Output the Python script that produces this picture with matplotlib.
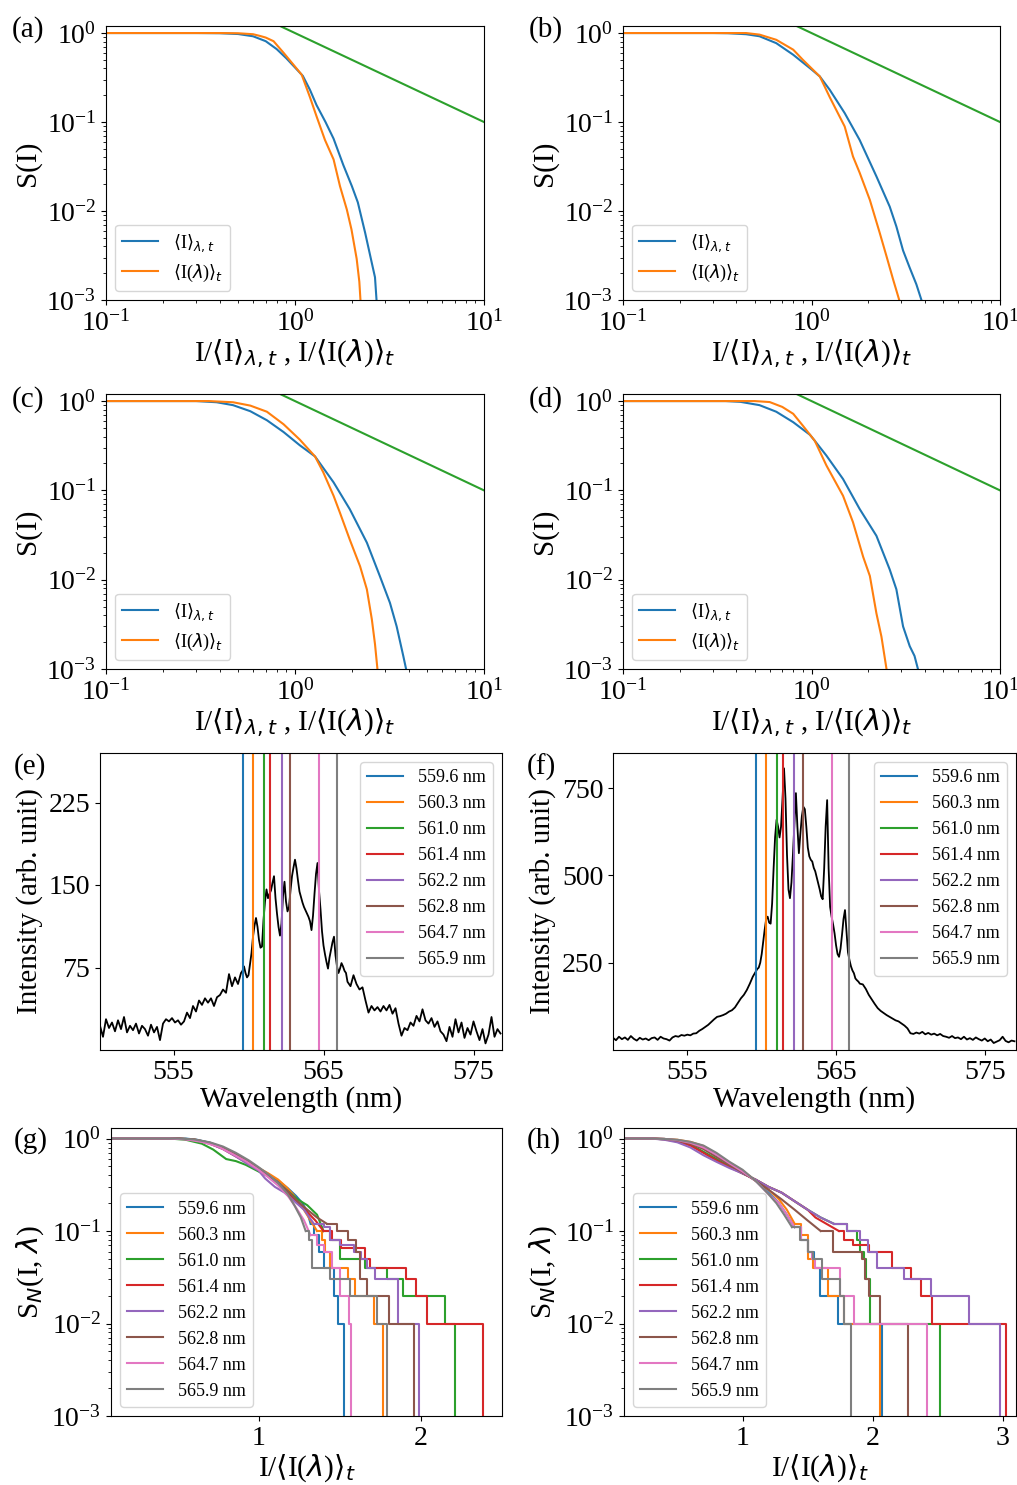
import numpy as np
import matplotlib
matplotlib.use('Agg')
import matplotlib.pyplot as plt

plt.rcParams['font.family'] = ['Liberation Serif', 'DejaVu Serif']
plt.rcParams['font.size'] = 20
plt.rcParams['axes.labelsize'] = 21
plt.rcParams['legend.fontsize'] = 13

# ---- survival curves S(I), panels (a)-(d): (x, S) pairs
a_blue = [(0.1, 1.0), (0.3, 1.0), (0.4, 0.995), (0.5, 0.975), (0.6, 0.92), (0.7, 0.81), (0.8, 0.66),
          (0.9, 0.52), (1.0, 0.41), (1.1, 0.33), (1.2, 0.23), (1.3, 0.155), (1.45, 0.1), (1.6, 0.065),
          (1.8, 0.033), (2.0, 0.019), (2.15, 0.0125), (2.35, 0.0057), (2.55, 0.0026), (2.65, 0.0018),
          (2.7, 0.001), (2.72, 0.0009)]
a_orange = [(0.1, 1.0), (0.4, 1.0), (0.5, 0.995), (0.6, 0.97), (0.65, 0.93), (0.7, 0.89), (0.77, 0.81),
            (0.87, 0.6), (1.0, 0.42), (1.085, 0.34), (1.2, 0.19), (1.3, 0.116), (1.44, 0.063), (1.6, 0.038),
            (1.73, 0.019), (1.88, 0.0104), (1.99, 0.0062), (2.12, 0.0029), (2.19, 0.0016), (2.22, 0.001),
            (2.24, 0.0009)]
b_blue = [(0.1, 1.0), (0.3, 1.0), (0.36, 0.995), (0.45, 0.97), (0.53, 0.92), (0.65, 0.77), (0.8, 0.57),
          (1.0, 0.39), (1.107, 0.325), (1.25, 0.23), (1.5, 0.126), (1.8, 0.063), (2.21, 0.0245),
          (2.6, 0.0112), (2.82, 0.0067), (3.06, 0.0036), (3.32, 0.0023), (3.6, 0.0015), (3.83, 0.001),
          (3.85, 0.0009)]
b_orange = [(0.1, 1.0), (0.45, 1.0), (0.53, 0.96), (0.65, 0.84), (0.8, 0.65), (0.9, 0.5), (1.107, 0.325),
            (1.25, 0.19), (1.5, 0.089), (1.66, 0.041), (1.8, 0.027), (2.04, 0.0133), (2.3, 0.0057),
            (2.5, 0.0031), (2.71, 0.0017), (2.92, 0.001), (2.94, 0.0009)]
c_blue = [(0.1, 1.0), (0.3, 1.0), (0.385, 0.97), (0.47, 0.9), (0.58, 0.77), (0.71, 0.61), (0.87, 0.45),
          (1.06, 0.32), (1.276, 0.24), (1.6, 0.123), (1.95, 0.0615), (2.4, 0.026), (2.81, 0.011),
          (3.18, 0.0055), (3.45, 0.003), (3.74, 0.0014), (3.87, 0.001), (3.9, 0.0009)]
c_orange = [(0.1, 1.0), (0.35, 1.0), (0.47, 0.97), (0.58, 0.89), (0.71, 0.76), (0.87, 0.55), (1.06, 0.37),
            (1.276, 0.24), (1.41, 0.16), (1.6, 0.087), (1.73, 0.056), (1.95, 0.028), (2.21, 0.0141),
            (2.4, 0.0078), (2.55, 0.0036), (2.65, 0.0019), (2.73, 0.001), (2.75, 0.0009)]
d_blue = [(0.1, 1.0), (0.35, 1.0), (0.42, 0.98), (0.53, 0.9), (0.65, 0.76), (0.8, 0.58), (0.98, 0.42),
          (1.04, 0.36), (1.2, 0.245), (1.47, 0.134), (1.8, 0.062), (2.21, 0.031), (2.6, 0.013),
          (2.82, 0.0078), (3.06, 0.003), (3.32, 0.0018), (3.52, 0.0014), (3.67, 0.001), (3.7, 0.0009)]
d_orange = [(0.1, 1.0), (0.5, 1.0), (0.6, 0.975), (0.7, 0.86), (0.8, 0.72), (0.9, 0.53), (1.04, 0.36),
            (1.2, 0.19), (1.47, 0.087), (1.66, 0.044), (1.88, 0.018), (2.04, 0.011), (2.21, 0.0042),
            (2.35, 0.0023), (2.5, 0.001), (2.52, 0.0009)]

# power-law guide S ~ 1/I
guide_x = [0.1, 10.0]
guide_y = [10.0, 0.1]

# ---- spectra (e), (f)
lines_nm = [559.6, 560.3, 561.0, 561.4, 562.2, 562.8, 564.7, 565.9]

e_int_left = [22, 12, 28, 20, 25, 17, 27, 19, 30, 16,
              22, 18, 24, 15, 22, 19, 13, 23, 16, 21,
              9, 24, 28, 26, 29, 25, 27, 23, 26, 34,
              29, 40, 35, 45, 41, 47, 43, 47, 40, 48,
              50, 55, 52, 69, 58, 66, 60, 70]
e_int_core = [72, 76, 70, 66, 68, 78, 88, 103, 113, 120,
              112, 100, 93, 94, 118, 135, 146, 138, 142, 145,
              152, 158, 138, 124, 112, 104, 115, 140, 153, 135,
              126, 130, 145, 158, 166, 173, 165, 154, 144, 139,
              134, 130, 127, 124, 121, 117, 109, 122, 142, 160,
              170, 145, 128, 108, 95, 87, 80, 74, 84, 91,
              98, 103, 86, 76, 70, 74, 79, 76, 72, 70,
              62]
e_int_right = [58, 68, 60, 55, 57, 45, 34, 40, 36, 39,
               35, 40, 36, 41, 33, 38, 24, 13, 20, 18,
               25, 22, 31, 26, 37, 27, 24, 29, 21, 26,
               17, 14, 8, 21, 12, 28, 16, 25, 11, 20,
               14, 26, 17, 9, 19, 6, 14, 30, 12, 19,
               15]

f_int_left = [35, 28, 38, 31, 36, 29, 40, 32, 27, 35,
              30, 33, 28, 34, 36, 29, 38, 33, 31, 27,
              36, 40, 38, 43, 41, 44, 42, 47, 48, 55,
              60, 66, 72, 80, 88, 95, 97, 100, 104, 110,
              114, 122, 135, 148, 158, 172, 190, 210]
f_int_core = [225, 232, 236, 250, 275, 310, 345, 375, 382, 365,
              362, 420, 520, 610, 660, 640, 609, 640, 720, 807,
              720, 560, 460, 435, 480, 560, 650, 736, 640, 564,
              620, 670, 697, 690, 640, 580, 555, 545, 540, 522,
              512, 495, 478, 460, 440, 432, 520, 640, 716, 520,
              410, 382, 360, 334, 300, 275, 267, 290, 330, 375,
              401, 340, 280, 258, 240, 228, 220, 205, 200, 196,
              190]
f_int_right = [188, 175, 158, 145, 132, 120, 112, 106, 100, 95,
               90, 85, 82, 76, 70, 62, 48, 46, 50, 47,
               52, 45, 49, 44, 47, 42, 46, 40, 38, 35,
               40, 34, 36, 31, 38, 30, 34, 29, 36, 31,
               27, 33, 25, 30, 20, 24, 28, 38, 26, 22,
               27, 25]

e_wl = np.concatenate([np.linspace(550.1, 559.5, 48), np.linspace(559.6, 566.6, 71),
                       np.linspace(566.8, 576.8, 51)])
e_int = np.array(e_int_left + e_int_core + e_int_right)
f_wl = np.concatenate([np.linspace(550.0, 559.4, 48), np.linspace(559.6, 566.6, 71),
                       np.linspace(566.8, 577.0, 52)])
f_int = np.array(f_int_left + f_int_core + f_int_right)

# ---- per-wavelength survival S_N(I, lambda), breakpoints (x, level)
END = 1e-6  # last sample -> survival drops to zero
g_5596 = [(0.09, 1.0), (0.55, 1.0), (0.62, 0.97), (0.7, 0.9), (0.78, 0.8), (0.86, 0.67), (0.94, 0.56),
          (1.0, 0.48), (1.06, 0.41), (1.12, 0.35), (1.18, 0.29), (1.23, 0.24), (1.27, 0.2), (1.3, 0.16),
          (1.32, 0.12), (1.34, 0.09), (1.37, 0.06), (1.40, 0.04), (1.467, 0.02), (1.49, 0.01), (1.527, END)]
g_5603 = [(0.09, 1.0), (0.5, 1.0), (0.6, 0.98), (0.7, 0.89), (0.78, 0.79), (0.86, 0.66), (0.94, 0.55),
          (1.0, 0.48), (1.06, 0.42), (1.12, 0.36), (1.17, 0.3), (1.22, 0.24), (1.27, 0.18), (1.32, 0.13),
          (1.36, 0.1), (1.39, 0.08), (1.41, 0.06), (1.44, 0.04), (1.553, 0.03), (1.594, 0.02),
          (1.711, 0.01), (1.768, END)]
g_5610 = [(0.09, 1.0), (0.45, 1.0), (0.55, 0.97), (0.65, 0.88), (0.72, 0.76), (0.8, 0.6), (0.86, 0.57),
          (0.92, 0.52), (1.0, 0.44), (1.06, 0.39), (1.12, 0.33), (1.18, 0.27), (1.24, 0.22), (1.3, 0.19),
          (1.36, 0.15), (1.40, 0.1), (1.44, 0.08), (1.5, 0.05), (1.655, 0.04), (1.79, 0.03), (1.89, 0.02),
          (2.148, 0.01), (2.209, END)]
g_5614 = [(0.09, 1.0), (0.5, 1.0), (0.6, 0.97), (0.7, 0.88), (0.78, 0.77), (0.86, 0.64), (0.94, 0.53),
          (1.0, 0.46), (1.06, 0.4), (1.12, 0.33), (1.18, 0.26), (1.24, 0.2), (1.3, 0.16), (1.35, 0.13),
          (1.40, 0.1), (1.45, 0.08), (1.51, 0.065), (1.655, 0.05), (1.686, 0.04), (1.908, 0.03),
          (1.969, 0.02), (2.039, 0.01), (2.383, END)]
g_5622 = [(0.09, 1.0), (0.5, 1.0), (0.6, 0.97), (0.7, 0.88), (0.78, 0.77), (0.86, 0.64), (0.94, 0.52),
          (1.0, 0.45), (1.04, 0.37), (1.1, 0.3), (1.16, 0.26), (1.22, 0.21), (1.28, 0.17), (1.34, 0.12),
          (1.40, 0.11), (1.44, 0.08), (1.5, 0.07), (1.59, 0.06), (1.63, 0.05), (1.67, 0.04), (1.72, 0.03),
          (1.86, 0.01), (1.99, END)]
g_5628 = [(0.09, 1.0), (0.5, 1.0), (0.6, 0.98), (0.7, 0.9), (0.78, 0.8), (0.86, 0.67), (0.94, 0.55),
          (1.0, 0.47), (1.06, 0.4), (1.12, 0.33), (1.18, 0.27), (1.24, 0.21), (1.3, 0.17), (1.36, 0.14),
          (1.42, 0.12), (1.48, 0.1), (1.55, 0.08), (1.6, 0.06), (1.625, 0.03), (1.666, 0.02),
          (1.805, 0.01), (1.957, END)]
g_5647 = [(0.09, 1.0), (0.45, 1.0), (0.55, 0.98), (0.65, 0.92), (0.75, 0.82), (0.84, 0.68), (0.92, 0.57),
          (1.0, 0.46), (1.06, 0.38), (1.12, 0.31), (1.18, 0.24), (1.23, 0.18), (1.28, 0.13), (1.32, 0.09),
          (1.36, 0.07), (1.4, 0.06), (1.45, 0.04), (1.50, 0.02), (1.557, 0.01), (1.57, END)]
g_5659 = [(0.09, 1.0), (0.5, 1.0), (0.6, 0.98), (0.7, 0.91), (0.78, 0.82), (0.86, 0.7), (0.94, 0.58),
          (1.0, 0.49), (1.06, 0.41), (1.12, 0.33), (1.18, 0.25), (1.22, 0.19), (1.26, 0.14), (1.29, 0.1),
          (1.31, 0.08), (1.328, 0.04), (1.44, 0.03), (1.563, 0.02), (1.73, 0.01), (1.79, END)]

h_5596 = [(0.09, 1.0), (0.3, 1.0), (0.4, 0.99), (0.5, 0.96), (0.6, 0.9), (0.7, 0.8), (0.8, 0.67),
          (0.9, 0.53), (1.0, 0.44), (1.1, 0.35), (1.2, 0.26), (1.28, 0.2), (1.34, 0.15), (1.4, 0.11),
          (1.45, 0.08), (1.5, 0.06), (1.546, 0.04), (1.592, 0.02), (1.733, 0.01), (2.072, END)]
h_5603 = [(0.09, 1.0), (0.3, 1.0), (0.4, 0.99), (0.5, 0.97), (0.6, 0.92), (0.7, 0.83), (0.8, 0.68),
          (0.9, 0.55), (1.0, 0.45), (1.1, 0.35), (1.2, 0.28), (1.28, 0.22), (1.34, 0.17), (1.4, 0.12),
          (1.45, 0.09), (1.5, 0.05), (1.54, 0.04), (1.66, 0.02), (1.777, 0.01), (2.054, END)]
h_5610 = [(0.09, 1.0), (0.3, 1.0), (0.4, 0.98), (0.5, 0.94), (0.6, 0.86), (0.7, 0.72), (0.8, 0.6),
          (0.9, 0.5), (1.0, 0.42), (1.1, 0.36), (1.2, 0.3), (1.3, 0.26), (1.4, 0.21), (1.5, 0.17),
          (1.6, 0.14), (1.7, 0.12), (1.8, 0.1), (1.88, 0.08), (1.9, 0.06), (1.93, 0.05), (1.95, 0.03),
          (1.977, 0.01), (2.52, END)]
h_5614 = [(0.09, 1.0), (0.3, 1.0), (0.4, 0.98), (0.5, 0.93), (0.6, 0.84), (0.7, 0.7), (0.8, 0.58),
          (0.9, 0.49), (1.0, 0.42), (1.1, 0.36), (1.2, 0.3), (1.3, 0.26), (1.4, 0.21), (1.5, 0.17),
          (1.56, 0.14), (1.74, 0.1), (1.78, 0.08), (1.85, 0.07), (1.97, 0.06), (2.15, 0.04),
          (2.295, 0.03), (2.367, 0.02), (2.456, 0.01), (3.02, END)]
h_5622 = [(0.09, 1.0), (0.3, 1.0), (0.4, 0.97), (0.5, 0.91), (0.6, 0.8), (0.7, 0.66), (0.8, 0.56),
          (0.9, 0.48), (1.0, 0.42), (1.1, 0.36), (1.2, 0.3), (1.3, 0.26), (1.4, 0.21), (1.5, 0.17),
          (1.6, 0.14), (1.7, 0.12), (1.8, 0.1), (1.905, 0.08), (1.96, 0.06), (2.033, 0.04),
          (2.238, 0.03), (2.444, 0.02), (2.738, 0.01), (2.974, END)]
h_5628 = [(0.09, 1.0), (0.3, 1.0), (0.4, 0.99), (0.5, 0.95), (0.6, 0.88), (0.7, 0.77), (0.8, 0.63),
          (0.9, 0.52), (1.0, 0.43), (1.1, 0.35), (1.2, 0.28), (1.3, 0.22), (1.4, 0.17), (1.5, 0.13),
          (1.6, 0.1), (1.695, 0.06), (1.918, 0.05), (1.94, 0.03), (1.97, 0.02), (2.059, 0.01), (2.27, END)]
h_5647 = [(0.09, 1.0), (0.3, 1.0), (0.4, 0.99), (0.5, 0.96), (0.6, 0.9), (0.7, 0.8), (0.8, 0.67),
          (0.9, 0.54), (1.0, 0.44), (1.1, 0.35), (1.2, 0.25), (1.28, 0.2), (1.34, 0.15), (1.4, 0.11),
          (1.45, 0.08), (1.5, 0.06), (1.53, 0.05), (1.56, 0.04), (1.75, 0.02), (1.859, 0.01), (2.413, END)]
h_5659 = [(0.09, 1.0), (0.3, 1.0), (0.4, 0.99), (0.5, 0.97), (0.6, 0.92), (0.7, 0.84), (0.8, 0.7),
          (0.9, 0.56), (1.0, 0.46), (1.1, 0.35), (1.2, 0.25), (1.26, 0.2), (1.32, 0.15), (1.38, 0.11),
          (1.44, 0.08), (1.5, 0.06), (1.54, 0.05), (1.61, 0.03), (1.75, 0.02), (1.782, 0.01), (1.833, END)]

g_series = [g_5596, g_5603, g_5610, g_5614, g_5622, g_5628, g_5647, g_5659]
h_series = [h_5596, h_5603, h_5610, h_5614, h_5622, h_5628, h_5647, h_5659]

# ---- figure, axes placed in pixel boxes (left, top, right, bottom)
W, H = 1017, 1485
fig = plt.figure(figsize=(W / 100, H / 100), dpi=100)


def box(l, t, r, b):
    return fig.add_axes([l / W, 1 - b / H, (r - l) / W, (b - t) / H])


def label(x, y, s):
    fig.text(x / W, 1 - y / H, s, fontsize=21, va='center', ha='left')


xlab_s = r'I/$\langle$I$\rangle_{\lambda,t}$ , I/$\langle$I($\lambda$)$\rangle_t$'
leg_s = [r'$\langle$I$\rangle_{\lambda,t}$', r'$\langle$I($\lambda$)$\rangle_t$']

survival = [(a_blue, a_orange, (106, 26, 484, 300), (12, 30), '(a)'),
            (b_blue, b_orange, (623, 26, 1000, 300), (529, 30), '(b)'),
            (c_blue, c_orange, (106, 394, 484, 669), (12, 400), '(c)'),
            (d_blue, d_orange, (623, 394, 1000, 669), (529, 400), '(d)')]

for blue, orange, pos, lpos, tag in survival:
    ax = box(*pos)
    bx, by = zip(*blue)
    ox, oy = zip(*orange)
    ax.plot(bx, by, color='C0', lw=1.5, label=leg_s[0])
    ax.plot(ox, oy, color='C1', lw=1.5, label=leg_s[1])
    ax.plot(guide_x, guide_y, color='C2', lw=1.5)
    ax.set_xscale('log')
    ax.set_yscale('log')
    ax.set_xlim(0.1, 10)
    ax.set_ylim(1e-3, 1.2)
    ax.set_xlabel(xlab_s, labelpad=1)
    ax.set_ylabel('S(I)', labelpad=4)
    ax.legend(loc='lower left')
    label(*lpos, tag)

spectra = [(e_wl, e_int, (100, 753, 502, 1050), (550.1, 576.9), (0, 270), [75, 150, 225], (14, 767), '(e)'),
           (f_wl, f_int, (613, 753, 1016, 1050), (550.0, 577.1), (0, 851), [250, 500, 750], (527, 767), '(f)')]

for wl, inten, pos, xl, yl, yt, lpos, tag in spectra:
    ax = box(*pos)
    ax.plot(wl, inten, color='black', lw=1.3)
    for i, w in enumerate(lines_nm):
        ax.axvline(w, color='C%d' % i, lw=1.5, label='%.1f nm' % w)
    ax.set_xlim(*xl)
    ax.set_ylim(*yl)
    ax.set_xticks([555, 565, 575])
    ax.set_yticks(yt)
    ax.set_xlabel('Wavelength (nm)', labelpad=1)
    ax.set_ylabel('Intensity (arb. unit)', labelpad=4)
    ax.legend(loc='upper right')
    label(*lpos, tag)

steps = [(g_series, (111, 1128, 502, 1416), (0.09, 2.5), [1, 2], (14, 1141), '(g)'),
         (h_series, (624, 1128, 1016, 1416), (0.09, 3.1), [1, 2, 3], (527, 1141), '(h)')]

for series, pos, xl, xt, lpos, tag in steps:
    ax = box(*pos)
    for i, s in enumerate(series):
        sx, sy = zip(*s)
        # bulk of the distribution drawn smooth, sparse tail drawn as steps
        k = next(j for j, v in enumerate(sy) if v <= 0.12)
        ax.plot(sx[:k + 1], sy[:k + 1], color='C%d' % i, lw=1.5, label='%.1f nm' % lines_nm[i])
        ax.plot(sx[k:], sy[k:], drawstyle='steps-post', color='C%d' % i, lw=1.5)
    ax.set_yscale('log')
    ax.set_xlim(*xl)
    ax.set_ylim(1e-3, 1.3)
    ax.set_xticks(xt)
    ax.set_xlabel(r'I/$\langle$I($\lambda$)$\rangle_t$', labelpad=1)
    ax.set_ylabel(r'S$_N$(I, $\lambda$)', labelpad=4)
    ax.legend(loc='lower left')
    label(*lpos, tag)

fig.savefig('out.png', dpi=100)
